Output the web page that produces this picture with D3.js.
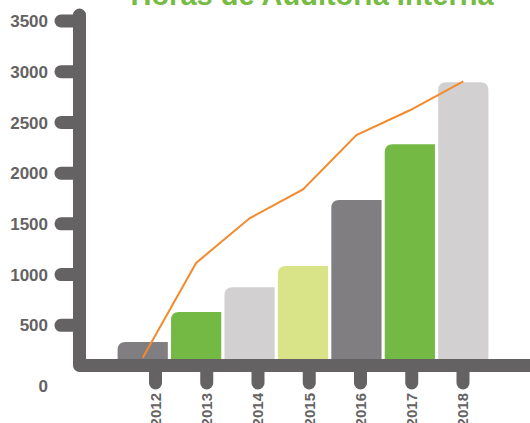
<!DOCTYPE html>
<html>
<head>
<meta charset="utf-8">
<script src="https://cdn.jsdelivr.net/npm/d3@7"></script>
<style>
  body { margin: 0; background: #fff; }
  svg { display: block; font-family: "Liberation Sans", Arial, sans-serif; }
</style>
</head>
<body>
<div id="chart"></div>
<script>
var width = 530, height = 423;

// data
var years = ["2012", "2013", "2014", "2015", "2016", "2017", "2018"];
var barValues = [335, 630, 875, 1085, 1735, 2285, 2895];
var lineValues = [180, 1115, 1555, 1840, 2375, 2620, 2905];
var yTicks = [0, 500, 1000, 1500, 2000, 2500, 3000, 3500];
var barColors = ["#807e81", "#74b943", "#d3d0d1", "#d8e487", "#807e81", "#74b943", "#d3d0d1"];
var title = "Horas de Auditoria Interna";

var axisColor = "#646263";
var axisW = 13;

var y = d3.scaleLinear()
    .domain([0, 3500])
    .range([376, 21]);

var xBar = d3.scaleBand()
    .domain(years)
    .range([116, 490])
    .paddingInner(0.06)
    .paddingOuter(0.03);

var xTick = d3.scalePoint()
    .domain(years)
    .range([155.5, 463]);

var axisX = 79.5;               // centre of the vertical bar
var axisY = 365.5;              // centre of the horizontal bar
var base = axisY - axisW / 2;   // bars sit on the axis

const svg = d3.select("#chart")
    .append("svg")
    .attr("width", width)
    .attr("height", height);

// title (cut by the top edge)
svg.append("text")
    .attr("x", 312)
    .attr("y", 5)
    .attr("text-anchor", "middle")
    .attr("font-size", "29px")
    .attr("font-weight", "bold")
    .attr("fill", "#76bc43")
    .text(title);

// bars, top-left corner rounded (last one both)
function barPath(x0, x1, top, bottom, rl, rr) {
    return "M" + x0 + "," + bottom +
        "V" + (top + rl) +
        "Q" + x0 + "," + top + " " + (x0 + rl) + "," + top +
        "H" + (x1 - rr) +
        "Q" + x1 + "," + top + " " + x1 + "," + (top + rr) +
        "V" + bottom + "Z";
}

svg.append("g")
    .selectAll("path")
    .data(years)
    .join("path")
      .attr("fill", (d, i) => barColors[i])
      .attr("d", (d, i) => barPath(xBar(d), xBar(d) + xBar.bandwidth(), y(barValues[i]), base + 1,
            8, i == years.length - 1 ? 8 : 0));

// orange line
var line = d3.line()
    .x((d, i) => xBar(years[i]) + xBar.bandwidth() / 2)
    .y(d => y(d));

svg.append("path")
    .datum(lineValues)
    .attr("fill", "none")
    .attr("stroke", "#f58a2c")
    .attr("stroke-width", 2)
    .attr("d", line);

// chunky axes
var ax = svg.append("g");

ax.selectAll(".ystub")
    .data(yTicks.filter(d => d > 0))
    .join("line")
      .attr("x1", 61).attr("x2", axisX)
      .attr("y1", d => y(d)).attr("y2", d => y(d))
      .attr("stroke", axisColor)
      .attr("stroke-width", axisW)
      .attr("stroke-linecap", "round");

ax.selectAll(".xstub")
    .data(years)
    .join("line")
      .attr("x1", d => xTick(d)).attr("x2", d => xTick(d))
      .attr("y1", axisY).attr("y2", 383)
      .attr("stroke", axisColor)
      .attr("stroke-width", axisW)
      .attr("stroke-linecap", "round");

ax.append("path")
    .attr("d", "M" + axisX + ",15V" + axisY + "H" + (width + 20))
    .attr("fill", "none")
    .attr("stroke", axisColor)
    .attr("stroke-width", axisW)
    .attr("stroke-linecap", "round")
    .attr("stroke-linejoin", "round");

// tick labels
svg.append("g")
    .selectAll("text")
    .data(yTicks)
    .join("text")
      .attr("x", 48)
      .attr("y", d => d == 0 ? y(d) + 10 : y(d))
      .attr("dy", "0.36em")
      .attr("text-anchor", "end")
      .attr("font-size", "17px")
      .attr("font-weight", "bold")
      .attr("fill", axisColor)
      .text(d => d);

svg.append("g")
    .selectAll("text")
    .data(years)
    .join("text")
      .attr("transform", d => "translate(" + xTick(d) + ",393) rotate(-90)")
      .attr("dy", "0.36em")
      .attr("text-anchor", "end")
      .attr("font-size", "15px")
      .attr("font-weight", "bold")
      .attr("fill", axisColor)
      .text(d => d);
</script>
</body>
</html>
